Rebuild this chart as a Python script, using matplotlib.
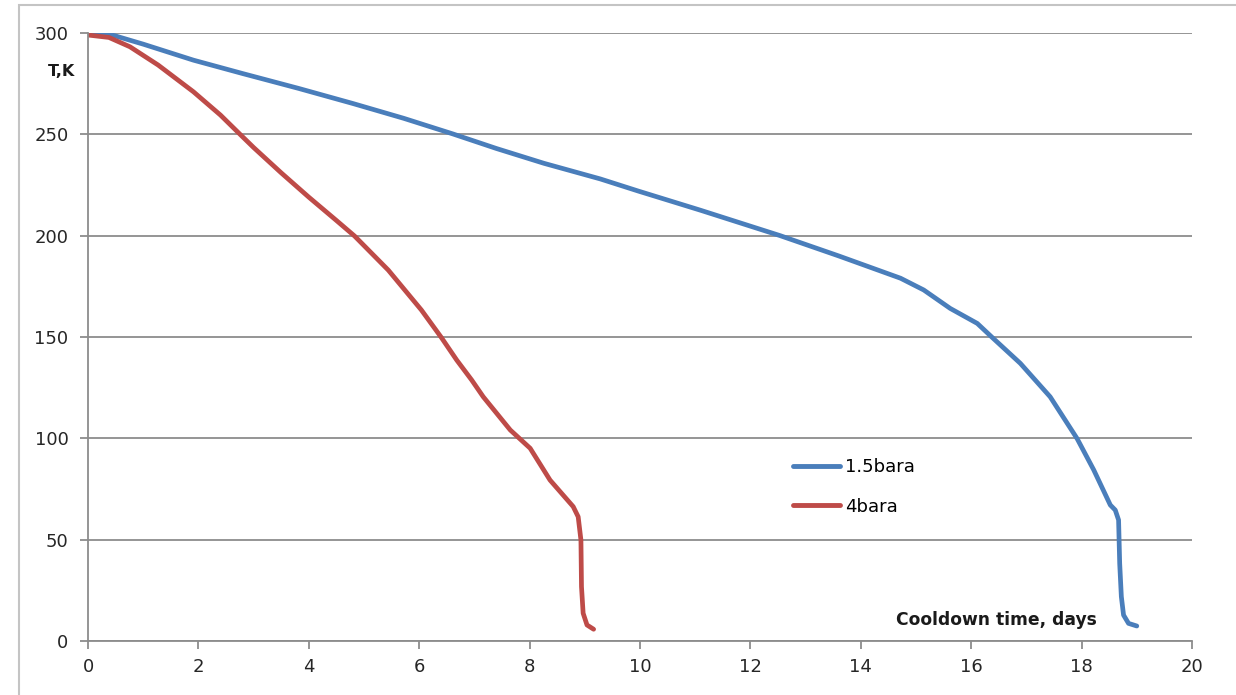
import matplotlib.pyplot as plt
from matplotlib.patches import Rectangle

# cooldown curves (days, K)
days_15bara = [0.0, 0.38, 1.0, 1.91, 2.8, 3.81, 4.8, 5.72, 6.61, 7.4, 8.26, 9.28, 9.97,
               11.09, 12.54, 13.6, 14.72, 15.14, 15.62, 16.11, 16.38, 16.89,
               17.43, 17.92, 18.22, 18.52, 18.61, 18.67, 18.69, 18.72, 18.76,
               18.85, 19.0]
temp_15bara = [300, 299.5, 294.5, 286.6, 280.0, 272.7, 265.2, 257.9, 250.2, 243.0,
               235.7, 228.0, 222.0, 212.6, 200.0, 190.0, 179.0, 173.2, 164.1,
               156.7, 149.8, 137.0, 120.5, 99.8, 84.4, 67.1, 64.6, 59.7, 38.3,
               21.9, 12.8, 8.7, 7.4]

days_4bara = [0.0, 0.38, 0.76, 1.27, 1.91, 2.4, 2.77, 3.0, 3.5, 4.0, 4.5, 4.83, 5.44,
              6.04, 6.40, 6.68, 6.95, 7.16, 7.65, 8.01, 8.37, 8.79, 8.88,
              8.93, 8.94, 8.97, 9.04, 9.16]
temp_4bara = [299, 297.8, 293.2, 284.2, 271.0, 259.5, 249.6, 243.5, 231.0, 219.0,
              207.5, 199.8, 183.0, 163.3, 149.8, 138.6, 128.8, 120.5, 104.1,
              95.1, 79.4, 66.3, 61.3, 49.8, 26.8, 13.7, 7.9, 5.8]

labels = ['1.5bara', '4bara']
colors = ['#4a7ebb', '#be4b48']

x_ticks = list(range(0, 21, 2))
y_ticks = list(range(0, 301, 50))

plt.rcParams['font.family'] = ['DejaVu Sans']

fig = plt.figure(figsize=(12.36, 6.95), dpi=100)
ax = fig.add_axes([88 / 1236, 54 / 695, 1104 / 1236, 608 / 695])

# chart area border like the spreadsheet frame
fig.patches.append(Rectangle((19 / 1236, -0.01), 1.2, (690 / 695) + 0.01,
                             transform=fig.transFigure, fill=False,
                             edgecolor='#c4c4c4', linewidth=1.5))

ax.plot(days_15bara, temp_15bara, color=colors[0], lw=3.4, label=labels[0],
        solid_capstyle='round', solid_joinstyle='round')
ax.plot(days_4bara, temp_4bara, color=colors[1], lw=3.4, label=labels[1],
        solid_capstyle='round', solid_joinstyle='round')

ax.set_xlim(0, 20)
ax.set_ylim(0, 300)
ax.set_xticks(x_ticks)
ax.set_yticks(y_ticks)

ax.yaxis.grid(True, color='#8c8c8c', linewidth=1.3)
ax.set_axisbelow(True)
for s in ['top', 'right']:
    ax.spines[s].set_visible(False)
for s in ['left', 'bottom']:
    ax.spines[s].set_color('#8c8c8c')
    ax.spines[s].set_linewidth(1.3)
ax.tick_params(axis='both', colors='#8c8c8c', length=6, width=1.3,
               labelcolor='#262626', labelsize=13)
ax.tick_params(axis='y', pad=8)
ax.tick_params(axis='x', pad=6)

ax.text(-0.012, 0.936, 'T,K', transform=ax.transAxes, ha='right', va='center',
        fontsize=11.5, fontweight='bold', color='#1a1a1a')
ax.text(0.823, 0.034, 'Cooldown time, days', transform=ax.transAxes,
        ha='center', va='center', fontsize=12.3, fontweight='bold', color='#1a1a1a')

ax.legend(loc='upper left', bbox_to_anchor=(705 / 1104, (641 - 458) / 608),
          frameon=False, fontsize=13, handlelength=2.6, handletextpad=0.28,
          labelspacing=1.2, borderpad=0, borderaxespad=0)
for line in ax.get_legend().get_lines():
    line.set_linewidth(3.5)

fig.savefig('out.png', dpi=100)
